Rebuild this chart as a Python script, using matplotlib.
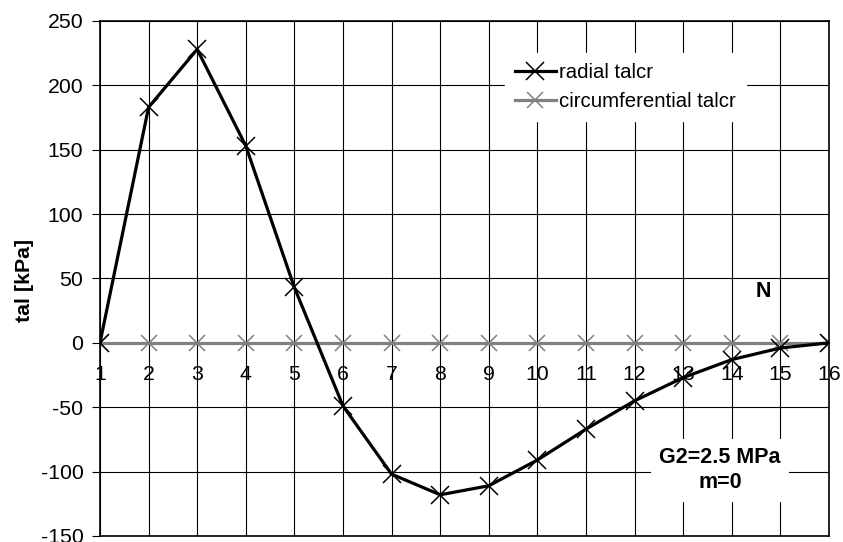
import matplotlib
matplotlib.use("Agg")
import matplotlib.pyplot as plt

plt.rcParams["font.family"] = ["Liberation Sans", "DejaVu Sans"]
plt.rcParams["axes.unicode_minus"] = False

# shear stress along the interface, nodes 1..16
nodes = list(range(1, 17))
radial_talcr = [0, 183, 228, 153, 43, -49, -102, -118, -111, -91, -67, -45, -27, -13, -4, 0]
circ_talcr = [0] * 16
y_ticks = [-150, -100, -50, 0, 50, 100, 150, 200, 250]

fig = plt.figure(figsize=(8.43, 5.42), dpi=100)
ax = fig.add_axes([0.1186, 0.0111, 0.8648, 0.9502])

ax.plot(nodes, circ_talcr, color="#808080", lw=2.3, marker="x", ms=12, mew=1.1,
        label="circumferential talcr", zorder=3)
ax.plot(nodes, radial_talcr, color="black", lw=2.3, marker="x", ms=13, mew=1.1,
        label="radial talcr", zorder=4)

ax.set_xlim(1, 16)
ax.set_ylim(-150, 250)
ax.set_yticks(y_ticks)
ax.set_xticks(nodes)
ax.grid(True, color="black", lw=0.8, zorder=1)
ax.set_axisbelow(True)
for s in ax.spines.values():
    s.set_linewidth(1.2)

ax.tick_params(axis="y", direction="out", length=6, width=0.8, pad=6, labelsize=15.3)
ax.tick_params(axis="x", length=0, labelbottom=False)

# category labels sit on the zero line
zero_frac = (0 - (-150)) / (250 - (-150))
sec = ax.secondary_xaxis(zero_frac)
sec.set_xticks(nodes)
sec.set_xticklabels([str(n) for n in nodes])
sec.tick_params(length=0, pad=16, labelsize=15.3)
sec.spines["bottom"].set_visible(False)

fig.text(24 / 843, 1 - 280 / 542, "tal [kPa]", rotation=90, fontsize=15.4,
         fontweight="bold", ha="center", va="center")

handles, labels = ax.get_legend_handles_labels()
leg = ax.legend(handles[::-1], labels[::-1], loc="upper left",
                bbox_to_anchor=(0.541, 0.958), frameon=True, fontsize=14.7,
                handlelength=2.0, handletextpad=0.15, borderpad=0.5,
                labelspacing=0.5)
leg.get_frame().set_edgecolor("white")
leg.get_frame().set_facecolor("white")
leg.get_frame().set_alpha(1)

ax.text(14.64, 40, "N", fontsize=15.5, fontweight="bold", ha="center", va="center")
ax.text(13.76, -99, "G2=2.5 MPa\nm=0", fontsize=15.5, fontweight="bold",
        ha="center", va="center", linespacing=1.25,
        bbox=dict(facecolor="white", edgecolor="none", pad=6), zorder=5)

fig.savefig("out.png", dpi=100)
